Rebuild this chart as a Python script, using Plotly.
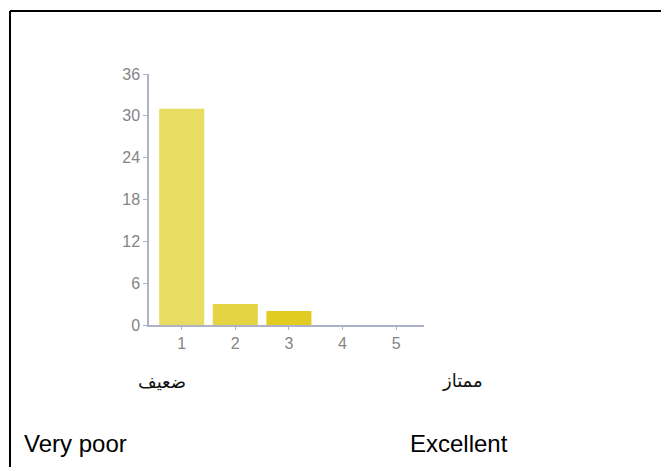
import plotly.graph_objects as go

# Rating scale 1..5 and number of responses per rating
ratings = [1, 2, 3, 4, 5]
counts = [31, 3, 2, 0, 0]
bar_colors = ["#e8dc62", "#e4d444", "#e1cc22", "#e1cc22", "#e1cc22"]
y_ticks = [0, 6, 12, 18, 24, 30, 36]

W, H = 661, 467
L, R, T, B = 149, 237, 74, 142
pw, ph = W - L - R, H - T - B


def px_x(p):
    return (p - L) / pw


def px_y(p):
    return (H - B - p) / ph


fig = go.Figure(
    go.Bar(
        x=ratings,
        y=counts,
        width=0.84,
        marker=dict(color=bar_colors, line=dict(width=0)),
        hoverinfo="skip",
    )
)

axis_color = "#aeb2c6"
tick_font = dict(family="Liberation Sans, Arial, sans-serif", size=16, color="#858585")

fig.update_xaxes(
    range=[0.39, 5.52],
    tickmode="array",
    tickvals=ratings,
    ticks="outside",
    ticklen=3,
    tickcolor=axis_color,
    showline=True,
    linecolor=axis_color,
    linewidth=1.5,
    showgrid=False,
    zeroline=False,
    tickfont=tick_font,
    fixedrange=True,
)
fig.update_yaxes(
    range=[0, 36],
    tickmode="array",
    tickvals=y_ticks,
    ticks="outside",
    ticklen=4,
    tickcolor=axis_color,
    showline=True,
    linecolor=axis_color,
    linewidth=1.5,
    showgrid=False,
    zeroline=False,
    tickfont=tick_font,
    fixedrange=True,
)

# Frame lines (top and left edges)
bx, by = px_x(10), px_y(11)
fig.add_shape(type="line", xref="paper", yref="paper", x0=bx, x1=bx, y0=by, y1=px_y(480),
              line=dict(color="black", width=2))
fig.add_shape(type="line", xref="paper", yref="paper", x0=bx, x1=px_x(680), y0=by, y1=by,
              line=dict(color="black", width=2))

arabic_font = dict(family="DejaVu Sans, sans-serif", size=18, color="#111111")
latin_font = dict(family="Liberation Sans, Arial, sans-serif", size=24, color="#000000")

labels = [
    ("ضعيف", 162, 381, arabic_font, "center"),
    ("ممتاز", 462, 380, arabic_font, "center"),
    ("Very poor", 22, 443, latin_font, "left"),
    ("Excellent", 408, 443, latin_font, "left"),
]
for text, x, y, font, anchor in labels:
    fig.add_annotation(
        text=text,
        xref="paper", yref="paper",
        x=px_x(x), y=px_y(y),
        xanchor=anchor,
        yanchor="middle",
        showarrow=False,
        font=font,
    )

fig.update_layout(
    width=W,
    height=H,
    autosize=False,
    margin=dict(l=L, r=R, t=T, b=B),
    paper_bgcolor="white",
    plot_bgcolor="white",
    showlegend=False,
    bargap=0.16,
)

fig.write_html("out.html", config={"displayModeBar": False})
